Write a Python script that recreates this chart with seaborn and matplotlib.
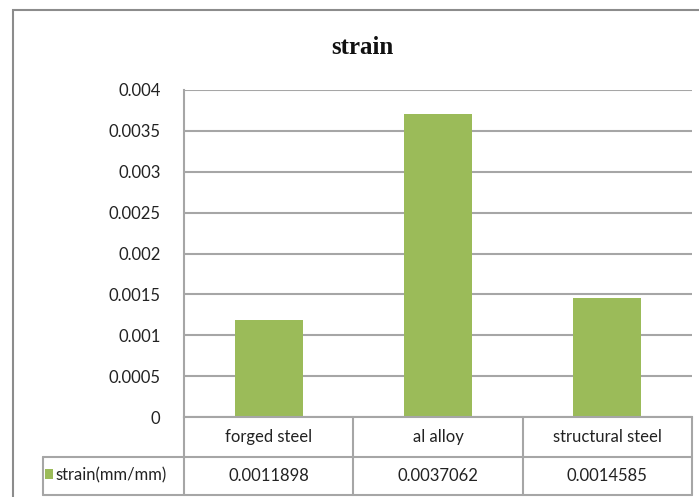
import matplotlib
matplotlib.use("Agg")
import matplotlib.pyplot as plt
import seaborn as sns
from matplotlib.lines import Line2D
from matplotlib.patches import Rectangle

categories = ["forged steel", "al alloy", "structural steel"]
values = [0.0011898, 0.0037062, 0.0014585]
value_labels = ["0.0011898", "0.0037062", "0.0014585"]
series_name = "strain(mm/mm)"
title = "strain"
yticks = [0, 0.0005, 0.001, 0.0015, 0.002, 0.0025, 0.003, 0.0035, 0.004]
ytick_labels = ["0", "0.0005", "0.001", "0.0015", "0.002", "0.0025", "0.003", "0.0035", "0.004"]

sns.set_theme(style="white")
plt.rcParams['font.family'] = ['Lato', 'DejaVu Sans']

W, H = 699, 497
fig = plt.figure(figsize=(W / 100, H / 100), dpi=100)
GRID = "#a6a6a6"
GREEN = "#9BBB59"
FS = 12

def fx(px):
    return px / W

def fy(py):
    return 1 - py / H

# outer border
fig.patches.append(Rectangle((fx(13), fy(520)), 1.2, fy(10) - fy(520), transform=fig.transFigure,
                             fill=False, edgecolor="#8c8c8c", linewidth=1.5))

L, R, T, B = 184, 692, 90, 417
ax = fig.add_axes([fx(L), fy(B), fx(R) - fx(L), fy(T) - fy(B)])

sns.barplot(x=categories, y=values, color=GREEN, width=0.4, saturation=1, ax=ax, edgecolor="none")
ax.set_xlim(-0.5, 2.5)
ax.set_ylim(0, 0.004)
ax.set_yticks(yticks)
ax.set_yticklabels(ytick_labels, fontsize=FS, color="#222222")
ax.set_xticks([])
ax.set_xlabel("")
ax.set_ylabel("")
ax.tick_params(axis="y", length=0, pad=17)
ax.yaxis.grid(True, color=GRID, linewidth=1.5)
ax.set_axisbelow(True)
for s in ["top", "right"]:
    ax.spines[s].set_visible(False)
for s in ["left", "bottom"]:
    ax.spines[s].set_color(GRID)
    ax.spines[s].set_linewidth(1.5)

# title
fig.text(fx(362), fy(47), title, ha="center", va="center", fontsize=18, fontweight="bold",
         family=["Liberation Serif", "DejaVu Serif"], color="#111111")

# data table
def hline(y, x0, x1):
    fig.add_artist(Line2D([fx(x0), fx(x1)], [fy(y), fy(y)], transform=fig.transFigure,
                          color=GRID, linewidth=1.5))

def vline(x, y0, y1):
    fig.add_artist(Line2D([fx(x), fx(x)], [fy(y0), fy(y1)], transform=fig.transFigure,
                          color=GRID, linewidth=1.5))

row_mid, row_bot = 457, 495
hline(row_mid, 43, R)
hline(row_bot, 43, R)
vline(43, row_mid, row_bot)
ncat = len(categories)
col_w = (R - L) / ncat
for i in range(ncat + 1):
    vline(L + i * col_w, B, row_bot)

trans = ax.get_xaxis_transform()
ah = B - T
for i, (c, v) in enumerate(zip(categories, value_labels)):
    ax.text(i, -((437 - B) / ah), c, transform=trans, ha="center", va="center", fontsize=FS,
            color="#222222", clip_on=False)
    ax.text(i, -((476 - B) / ah), v, transform=trans, ha="center", va="center", fontsize=FS,
            color="#222222", clip_on=False)

fig.patches.append(Rectangle((fx(45), fy(479)), fx(8), fy(469) - fy(479), transform=fig.transFigure,
                             facecolor=GREEN, edgecolor="none"))
fig.text(fx(55), fy(475), series_name, ha="left", va="center", fontsize=FS, color="#222222")

fig.savefig("out.png", dpi=100)
